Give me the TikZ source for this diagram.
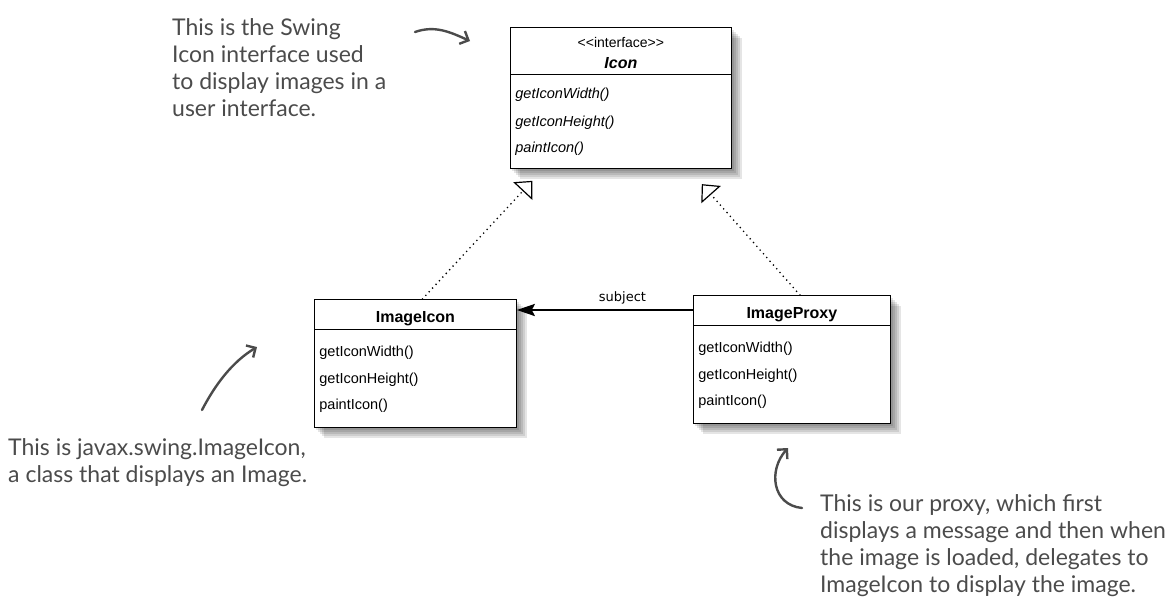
\documentclass[tikz,border=0pt]{standalone}
\usepackage{fontspec}
\newfontfamily\umlfont{Liberation Sans}
\newfontfamily\handfont{Lato}
\newfontfamily\tagfont{DejaVu Sans}
\usetikzlibrary{arrows.meta,positioning,shapes.multipart,backgrounds}
\definecolor{pencil}{RGB}{75,75,75}

\begin{document}
\begin{tikzpicture}[x=1pt, y=-1pt,
  umlclass/.style={rectangle split, rectangle split parts=2, draw, line width=.8pt,
    fill=white, inner xsep=5pt, inner ysep=0pt, anchor=north west,
    font=\umlfont\fontsize{14.5}{26.5}\selectfont},
  realize/.style={line width=1.8pt, line cap=round, dash pattern=on 0pt off 5pt,
    -{Triangle[open, length=14pt, width=26pt, line width=1.2pt]}},
  assoc/.style={line width=2.4pt, -{Stealth[length=18pt, width=12pt, inset=3pt]}},
  note/.style={anchor=north west, inner sep=0pt, align=left, text=pencil,
    font=\handfont\fontsize{23}{27}\selectfont},
  notearrow/.style={draw=pencil, line width=2.4pt, line cap=round,
    -{Straight Barb[length=7pt, width=14pt, line width=2.4pt]}},
]
\useasboundingbox (0,0) rectangle (1168,611);

% the three classes
\node[umlclass, text width=211pt] (icon) at (510,27)
  {\centering\rule{0pt}{20pt}\fontsize{14}{21}\selectfont<{}<interface>{}>\\
   \fontsize{16}{21}\selectfont\bfseries\itshape Icon\rule[-5pt]{0pt}{0pt}\par
   \nodepart{two}\fontsize{14.5}{27.5}\selectfont\itshape
   \rule{0pt}{24pt}getIconWidth()\\ getIconHeight()\\ paintIcon()\rule[-15pt]{0pt}{0pt}};
\node[umlclass, text width=192pt] (imgicon) at (314,299)
  {\centering\fontsize{16}{18}\selectfont\bfseries\rule{0pt}{23pt}ImageIcon\rule[-6pt]{0pt}{0pt}\par
   \nodepart{two}\rule{0pt}{27pt}getIconWidth()\\ getIconHeight()\\ paintIcon()\rule[-17pt]{0pt}{0pt}};
\node[umlclass, text width=187pt] (imgproxy) at (693,295)
  {\centering\fontsize{16}{18}\selectfont\bfseries\rule{0pt}{23pt}ImageProxy\rule[-6pt]{0pt}{0pt}\par
   \nodepart{two}\rule{0pt}{27pt}getIconWidth()\\ getIconHeight()\\ paintIcon()\rule[-17pt]{0pt}{0pt}};

% soft shadows
\begin{scope}[on background layer]
  \foreach \n in {icon,imgicon,imgproxy}
    \foreach \s in {1,3,...,11}
      \fill[black, opacity=.1] ([shift={(\s-1,\s)}]\n.north west) rectangle ([shift={(\s-1,\s)}]\n.south east);
\end{scope}

\draw[realize, shorten >=17pt] ([xshift=7pt]imgicon.north) -- ([xshift=-77pt]icon.south);
\draw[realize, shorten >=21pt] ([xshift=8pt]imgproxy.north) -- ([xshift=67pt]icon.south);
\draw[assoc] ([yshift=-15pt]imgproxy.north west) -- ([yshift=-15pt]imgproxy.north west -| imgicon.east)
  node[pos=.4, above=1pt, font=\tagfont\fontsize{13}{15}\selectfont] (subj) {subject};

% notes
\node[note] (swingnote) at (172,18)
  {This is the Swing\\Icon interface used\\to display images in a\\user interface.};
\node[note] (javaxnote) at (8,438)
  {This is javax.swing.ImageIcon,\\a class that displays an Image.};
\node[note] (proxynote) at (820,494)
  {This is our proxy, which first\\displays a message and then when\\the image is loaded, delegates to\\ImageIcon to display the image.};

\coordinate (swingtail) at (415,32);
\coordinate (swingtip) at (470,41);
\coordinate (javaxtail) at (202,410);
\coordinate (javaxtip) at (257,347);
\coordinate (proxytail) at (802,508);
\coordinate (proxytip) at (788,448);
\draw[notearrow] (swingtail) .. controls (435,25) and (450,32) .. (swingtip);
\draw[notearrow] (javaxtail) .. controls (215,385) and (232,362) .. (javaxtip);
\draw[notearrow] (proxytail) .. controls (772,505) and (768,470) .. (proxytip);
\end{tikzpicture}
\end{document}
